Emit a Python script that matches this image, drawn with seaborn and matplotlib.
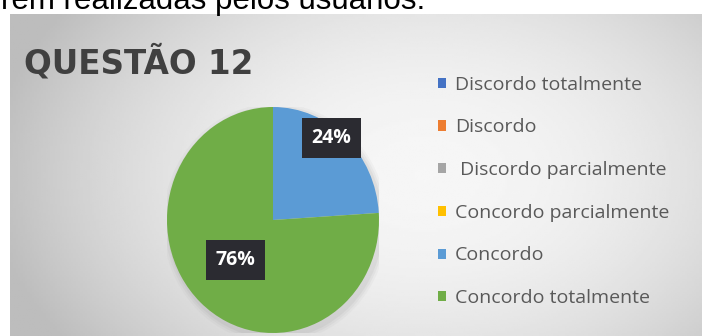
import numpy as np
import matplotlib
matplotlib.use("Agg")
import matplotlib.pyplot as plt
import seaborn as sns

# =====================================================
# DATA
# =====================================================

categories = [
    "Discordo totalmente",
    "Discordo",
    " Discordo parcialmente",
    "Concordo parcialmente",
    "Concordo",
    "Concordo totalmente",
]

percentages = [0, 0, 0, 0, 24, 76]

title_text = "QUESTÃO 12"
caption_text = "rem realizadas pelos usuários."

# office style colours
colors = sns.color_palette(
    ["#4472C4", "#ED7D31", "#A5A5A5", "#FFC000", "#5B9BD5", "#70AD47"]
)

# =====================================================
# FIGURE
# =====================================================

sns.set_style("white")
plt.rcParams["font.family"] = ["Open Sans", "DejaVu Sans"]

W, H = 709, 336
fig = plt.figure(figsize=(W / 100, H / 100), dpi=100)

# background panel with a soft gray gradient
bg = fig.add_axes([10 / W, 0, 692 / W, (H - 14) / H])
xx, yy = np.meshgrid(np.linspace(-1, 1, 300), np.linspace(-1, 1, 150))
shade = 0.965 - 0.17 * (((xx - 0.2) / 1.1) ** 2 + (yy / 1.6) ** 2)
shade = np.clip(shade, 0.74, 0.97)
bg.imshow(shade, cmap="gray", vmin=0, vmax=1, aspect="auto",
          extent=[0, 1, 0, 1])
bg.axis("off")

# caption cut at the top of the picture (as in the source screenshot)
fig.text(1 / W, 1 - 9 / H, caption_text, fontsize=22.5,
         family=["Liberation Sans", "DejaVu Sans"], color="black",
         va="baseline", ha="left")

# title
fig.text(24 / W, 1 - 73 / H, title_text, fontsize=23.5,
         family=["DejaVu Sans"], fontweight="bold",
         color="#404040", va="baseline", ha="left")

# =====================================================
# PIE
# =====================================================

ax = fig.add_axes([167 / W, 3 / H, 212 / W, 226 / H])

# faint shadow
for k, a in zip([1.06, 1.04, 1.02], [0.05, 0.07, 0.09]):
    ax.add_patch(plt.Circle((0.02, -0.03), k, color="gray", alpha=a, lw=0))

wedges, _ = ax.pie(
    percentages,
    colors=colors,
    startangle=90,
    counterclock=False,
    radius=1.0,
    wedgeprops={"linewidth": 0},
)

ax.set_aspect("auto")
ax.set_xlim(-1, 1)
ax.set_ylim(-1, 1)
ax.axis("off")

# label distance and angle shift per wedge
label_pos = {4: (0.91, 6), 5: (0.5, -1.5)}
for i, w in enumerate(wedges):
    if percentages[i] == 0:
        continue
    r, shift = label_pos.get(i, (0.7, 0))
    mid = np.deg2rad((w.theta1 + w.theta2) / 2 + shift)
    ax.text(
        r * np.cos(mid),
        r * np.sin(mid),
        f"{percentages[i]}%",
        ha="center", va="center",
        fontsize=14, fontweight="bold", color="white",
        bbox=dict(boxstyle="square,pad=0.5", fc="#2b2b31", ec="none"),
    )

# =====================================================
# LEGEND
# =====================================================

fig.legend(
    wedges,
    categories,
    loc="upper left",
    bbox_to_anchor=(428 / W, 1 - 66 / H),
    frameon=False,
    fontsize=14,
    labelcolor="#595959",
    handlelength=0.42,
    handleheight=0.42,
    handletextpad=0.45,
    labelspacing=1.27,
    borderpad=0,
)

plt.savefig("out.png", dpi=100)
